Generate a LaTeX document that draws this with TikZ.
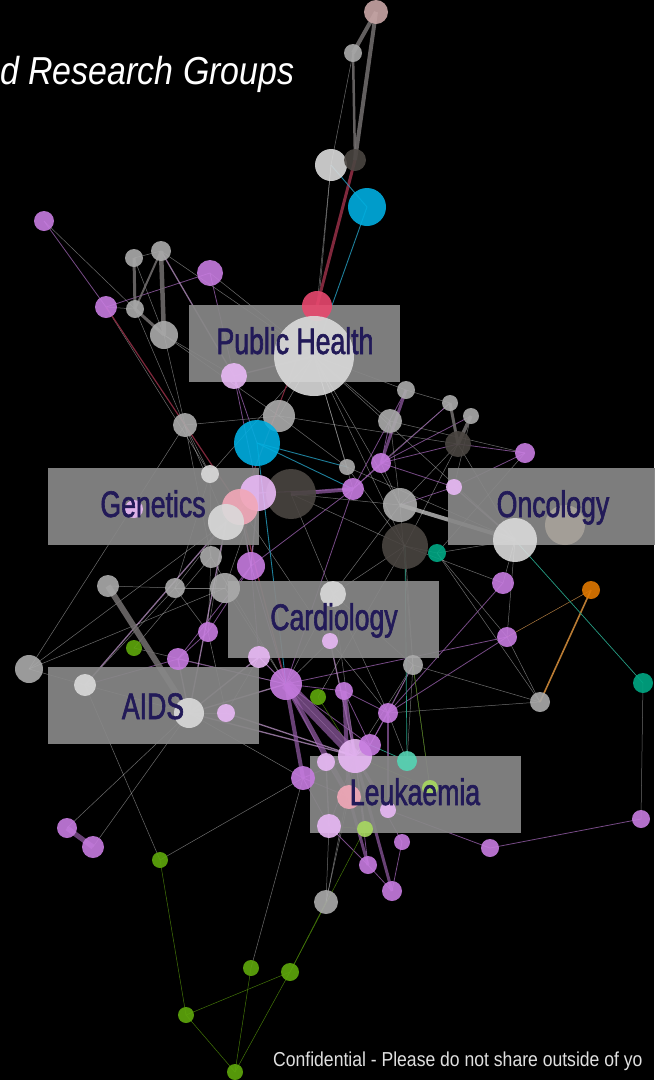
\documentclass[tikz,border=0pt]{standalone}
\usepackage{fontspec}
\usepackage{tikz}
\newfontfamily\grpfont[FakeStretch=0.72, FakeBold=1.6]{Liberation Sans}
\newfontfamily\thinfont[FakeStretch=0.87]{Liberation Sans}
\definecolor{pur}{HTML}{C77CE0}
\definecolor{lav}{HTML}{E8B8F5}
\definecolor{gry}{HTML}{ABABAB}
\definecolor{lgr}{HTML}{DADADA}
\definecolor{dgr}{HTML}{4A4541}
\definecolor{cya}{HTML}{00AEE0}
\definecolor{pnk}{HTML}{F2A8B8}
\definecolor{rdp}{HTML}{E8486E}
\definecolor{grn}{HTML}{5FA80C}
\definecolor{lgn}{HTML}{A8D860}
\definecolor{tea}{HTML}{00A884}
\definecolor{tlt}{HTML}{55D4B4}
\definecolor{orn}{HTML}{E07800}
\definecolor{rgy}{HTML}{C8A6A6}
\definecolor{gbr}{HTML}{A8A29A}
\definecolor{lblc}{HTML}{221A58}
\definecolor{boxc}{HTML}{878787}
\definecolor{thkc}{HTML}{747070}
\pgfdeclarelayer{bg}
\pgfdeclarelayer{edges}
\pgfdeclarelayer{boxes}
\pgfsetlayers{bg,edges,boxes,main}

\begin{document}
\begin{tikzpicture}[x=1pt, y=-1pt,
  vx/.style 2 args={circle, inner sep=0pt, minimum size=#2pt, fill=#1, fill opacity=.9},
  grpbox/.style={fill=boxc, fill opacity=.93, minimum width=211pt, minimum height=77pt, inner sep=0pt},
  grplbl/.style={anchor=base, text=lblc, font=\grpfont\fontsize{37}{40}\selectfont},
  lk/.style={draw=white!70!gray, line width=.5pt, draw opacity=.5},
  lkp/.style={draw=pur!80!black, line width=.8pt, draw opacity=.75},
  lkv/.style={draw=lav, line width=1.3pt, draw opacity=.6},
  lkg/.style={draw=grn!70!black, line width=.5pt},
  lkr/.style={draw=rdp!55!black, line width=#1pt},
  lkc/.style={draw=cya!70!gray, line width=.9pt, draw opacity=.8},
  thk/.style={draw=thkc, line width=#1pt, draw opacity=.85},
  thp/.style={draw=pur!75!black, line width=#1pt, draw opacity=.7}
]
\begin{pgfonlayer}{bg}
  \fill[black] (0,0) rectangle (654,1080);
\end{pgfonlayer}
\useasboundingbox (0,0) rectangle (654,1080);

% nodes
\node[vx={rgy}{24}] (n1) at (376,12) {};
\node[vx={gry}{18}] (n2) at (353,53) {};
\node[vx={lgr}{32}] (n3) at (331,165) {};
\node[vx={dgr}{22}] (n4) at (355,160) {};
\node[vx={cya}{38}] (n5) at (367,207) {};
\node[vx={rdp}{30}] (n6) at (317,306) {};
\node[vx={lgr}{80}] (n7) at (314,356) {};
\node[vx={pur}{20}] (n8) at (44,221) {};
\node[vx={gry}{18}] (n9) at (134,258) {};
\node[vx={gry}{20}] (n10) at (161,251) {};
\node[vx={pur}{26}] (n11) at (210,273) {};
\node[vx={pur}{22}] (n12) at (106,307) {};
\node[vx={gry}{18}] (n13) at (135,309) {};
\node[vx={gry}{28}] (n14) at (164,335) {};
\node[vx={lav}{26}] (n15) at (234,376) {};
\node[vx={gry}{18}] (n16) at (406,390) {};
\node[vx={gry}{24}] (n17) at (185,425) {};
\node[vx={gry}{32}] (n18) at (279,416) {};
\node[vx={cya}{46}] (n19) at (257,443) {};
\node[vx={gry}{24}] (n20) at (390,421) {};
\node[vx={gry}{16}] (n21) at (450,403) {};
\node[vx={gry}{16}] (n22) at (471,416) {};
\node[vx={dgr}{26}] (n23) at (458,444) {};
\node[vx={pur}{20}] (n24) at (525,453) {};
\node[vx={gry}{16}] (n25) at (347,467) {};
\node[vx={pur}{20}] (n26) at (381,463) {};
\node[vx={lgr}{18}] (n27) at (210,474) {};
\node[vx={dgr}{50}] (n28) at (291,494) {};
\node[vx={pur}{22}] (n29) at (353,489) {};
\node[vx={lav}{16}] (n30) at (454,487) {};
\node[vx={gry}{34}] (n31) at (400,505) {};
\node[vx={lav}{36}] (n32) at (258,493) {};
\node[vx={pnk}{36}] (n33) at (240,507) {};
\node[vx={lav}{18}] (n34) at (134,509) {};
\node[vx={lgr}{36}] (n35) at (226,522) {};
\node[vx={dgr}{46}] (n36) at (405,546) {};
\node[vx={tea}{18}] (n37) at (437,553) {};
\node[vx={lgr}{44}] (n38) at (515,540) {};
\node[vx={gbr}{40}] (n39) at (565,525) {};
\node[vx={gry}{22}] (n40) at (211,557) {};
\node[vx={pur}{28}] (n41) at (251,566) {};
\node[vx={gry}{30}] (n42) at (225,588) {};
\node[vx={gry}{22}] (n43) at (108,586) {};
\node[vx={gry}{20}] (n44) at (175,588) {};
\node[vx={pur}{22}] (n45) at (503,583) {};
\node[vx={orn}{18}] (n46) at (591,590) {};
\node[vx={lgr}{26}] (n47) at (333,594) {};
\node[vx={pur}{20}] (n48) at (208,632) {};
\node[vx={grn}{16}] (n49) at (134,648) {};
\node[vx={lav}{16}] (n50) at (330,641) {};
\node[vx={pur}{20}] (n51) at (507,637) {};
\node[vx={pur}{22}] (n52) at (178,659) {};
\node[vx={lav}{22}] (n53) at (259,657) {};
\node[vx={gry}{28}] (n54) at (29,669) {};
\node[vx={gry}{20}] (n55) at (413,665) {};
\node[vx={lgr}{22}] (n56) at (85,685) {};
\node[vx={pur}{32}] (n57) at (286,684) {};
\node[vx={grn}{16}] (n58) at (318,697) {};
\node[vx={pur}{18}] (n59) at (344,691) {};
\node[vx={lgr}{30}] (n60) at (189,713) {};
\node[vx={lav}{18}] (n61) at (226,713) {};
\node[vx={pur}{20}] (n62) at (388,713) {};
\node[vx={gry}{20}] (n63) at (540,702) {};
\node[vx={tea}{20}] (n64) at (643,683) {};
\node[vx={lav}{34}] (n65) at (355,756) {};
\node[vx={pur}{22}] (n66) at (370,745) {};
\node[vx={tlt}{20}] (n67) at (407,761) {};
\node[vx={pur}{24}] (n68) at (303,778) {};
\node[vx={lav}{18}] (n69) at (326,762) {};
\node[vx={pnk}{24}] (n70) at (349,797) {};
\node[vx={lgn}{16}] (n71) at (430,788) {};
\node[vx={lav}{16}] (n72) at (388,810) {};
\node[vx={lav}{24}] (n73) at (329,826) {};
\node[vx={lgn}{16}] (n74) at (365,829) {};
\node[vx={pur}{16}] (n75) at (402,842) {};
\node[vx={pur}{18}] (n76) at (490,848) {};
\node[vx={pur}{18}] (n77) at (641,819) {};
\node[vx={pur}{20}] (n78) at (67,828) {};
\node[vx={pur}{22}] (n79) at (93,847) {};
\node[vx={grn}{16}] (n80) at (160,860) {};
\node[vx={pur}{18}] (n81) at (368,865) {};
\node[vx={pur}{20}] (n82) at (392,891) {};
\node[vx={gry}{24}] (n83) at (326,902) {};
\node[vx={grn}{16}] (n84) at (251,968) {};
\node[vx={grn}{18}] (n85) at (290,972) {};
\node[vx={grn}{16}] (n86) at (186,1015) {};
\node[vx={grn}{16}] (n87) at (235,1072) {};

% connectors
\begin{pgfonlayer}{edges}
\foreach \a/\b in {n2/n3, n3/n7, n6/n7, n3/n6, n8/n13, n9/n14, n10/n7, n11/n7, n12/n27,
  n14/n17, n13/n35, n14/n18, n7/n16, n7/n18, n7/n20, n7/n25, n7/n31, n7/n38, n7/n27,
  n7/n29, n7/n36, n17/n40, n17/n27, n17/n18, n18/n23, n18/n25, n16/n21, n20/n31,
  n20/n24, n21/n26, n22/n30, n23/n31, n23/n36, n23/n38, n25/n36, n25/n38, n26/n31,
  n28/n31, n28/n47, n28/n36, n27/n40, n27/n44, n32/n42, n35/n48, n35/n54, n42/n44,
  n42/n54, n44/n48, n40/n49, n43/n44, n44/n56, n54/n56, n56/n60, n56/n80, n60/n78,
  n60/n79, n60/n68, n60/n61, n47/n55, n47/n36, n47/n62, n36/n55, n36/n58, n55/n62,
  n55/n67, n55/n65, n55/n63, n37/n63, n37/n51, n38/n51, n38/n45, n24/n37, n45/n36,
  n51/n63, n63/n62, n68/n80, n68/n84, n73/n83, n65/n83, n83/n70, n49/n57, n40/n48,
  n35/n44, n31/n55, n33/n50, n50/n57, n47/n57, n48/n61, n53/n61, n64/n77, n36/n37,
  n12/n13, n9/n10, n14/n15, n17/n54, n31/n47, n37/n38, n42/n57, n40/n57, n47/n65,
  n50/n62, n53/n65, n55/n71, n62/n67}
  \draw[lk] (\a.center) -- (\b.center);
\foreach \a/\b in {n8/n12, n11/n12, n11/n15, n15/n19, n15/n32, n16/n29, n20/n26,
  n23/n24, n23/n26, n26/n29, n26/n30, n29/n32, n29/n41, n29/n57, n24/n30, n41/n48,
  n41/n52, n41/n57, n48/n52, n52/n57, n52/n56, n53/n57, n57/n59, n57/n66, n59/n62,
  n62/n66, n62/n51, n62/n45, n65/n66, n65/n68, n65/n69, n65/n73, n65/n75, n65/n81,
  n68/n73, n69/n70, n72/n76, n76/n77, n81/n82, n75/n82, n66/n55, n51/n57, n73/n81,
  n68/n70, n41/n53, n21/n29, n22/n26, n30/n31, n57/n69, n59/n66}
  \draw[lkp] (\a.center) -- (\b.center);
\foreach \a/\b in {n15/n7, n32/n35, n35/n60, n53/n60, n61/n65, n60/n52, n33/n41,
  n32/n41, n50/n65, n35/n56, n57/n60, n60/n65, n10/n15, n30/n38, n65/n74, n69/n73}
  \draw[lkv] (\a.center) -- (\b.center);
\foreach \a/\b in {n80/n86, n86/n87, n85/n86, n84/n87, n85/n87, n83/n85, n74/n85,
  n71/n55, n58/n65, n74/n73, n71/n65}
  \draw[lkg] (\a.center) -- (\b.center);
\foreach \a/\b/\w in {n4/n6/3, n12/n33/1.2, n6/n33/1, n33/n57/1.2}
  \draw[lkr=\w] (\a.center) -- (\b.center);
\foreach \a/\b in {n3/n5, n5/n7, n19/n25, n19/n57, n19/n29}
  \draw[lkc] (\a.center) -- (\b.center);
\draw[draw=orn!60!gray, line width=1.6pt] (n46.center) -- (n63.center);
\draw[draw=orn!50!gray, line width=.5pt] (n46.center) -- (n51.center);
\draw[draw=tea!70!gray, line width=.7pt] (n38.center) -- (n64.center);
\draw[draw=tea!70!gray, line width=.7pt] (n66.center) -- (n67.center);
\draw[draw=tea!70!gray, line width=.7pt] (n36.center) -- (n67.center);
\foreach \a/\b/\w in {n1/n2/4, n1/n4/4, n2/n4/2.5, n10/n14/4.5, n9/n13/3, n13/n14/3,
  n10/n13/2, n43/n60/6, n21/n23/3, n22/n23/3.5}
  \draw[thk=\w] (\a.center) -- (\b.center);
\draw[draw=lgr, line width=4pt, draw opacity=.7] (n31.center) -- (n38.center);
\foreach \a/\b/\w in {n57/n65/11, n57/n70/5, n59/n70/4, n28/n29/4, n16/n26/3,
  n78/n79/5, n65/n72/3, n68/n57/4, n59/n65/3, n62/n72/2, n65/n82/3, n70/n81/3}
  \draw[thp=\w] (\a.center) -- (\b.center);
\end{pgfonlayer}

% group boxes
\begin{pgfonlayer}{boxes}
\node[grpbox] (phbox) at (294.5,343.5) {};
\node[grpbox] (genbox) at (153,506.5) {};
\node[grpbox] (oncbox) at (553.5,506.5) {};
\node[grpbox] (cardbox) at (333,619.5) {};
\node[grpbox] (aidsbox) at (153,705.5) {};
\node[grpbox] (leukbox) at (415.5,794.5) {};
\end{pgfonlayer}

\node[grplbl] (phlbl) at (295,354) {Public Health};
\node[grplbl] (genlbl) at (153,517) {Genetics};
\node[grplbl] (onclbl) at (553,517) {Oncology};
\node[grplbl] (cardlbl) at (334,630) {Cardiology};
\node[grplbl] (aidslbl) at (153,719) {AIDS};
\node[grplbl] (leuklbl) at (415,805) {Leukaemia};

\node[anchor=base west, inner sep=0pt, text=white, font=\thinfont\itshape\fontsize{39}{42}\selectfont] (title) at (0,84) {d Research Groups};
\node[anchor=base west, inner sep=0pt, text=white!88!black, font=\thinfont\fontsize{20.2}{23}\selectfont] (conf) at (273,1066) {Confidential - Please do not share outside of yo};
\end{tikzpicture}
\end{document}
